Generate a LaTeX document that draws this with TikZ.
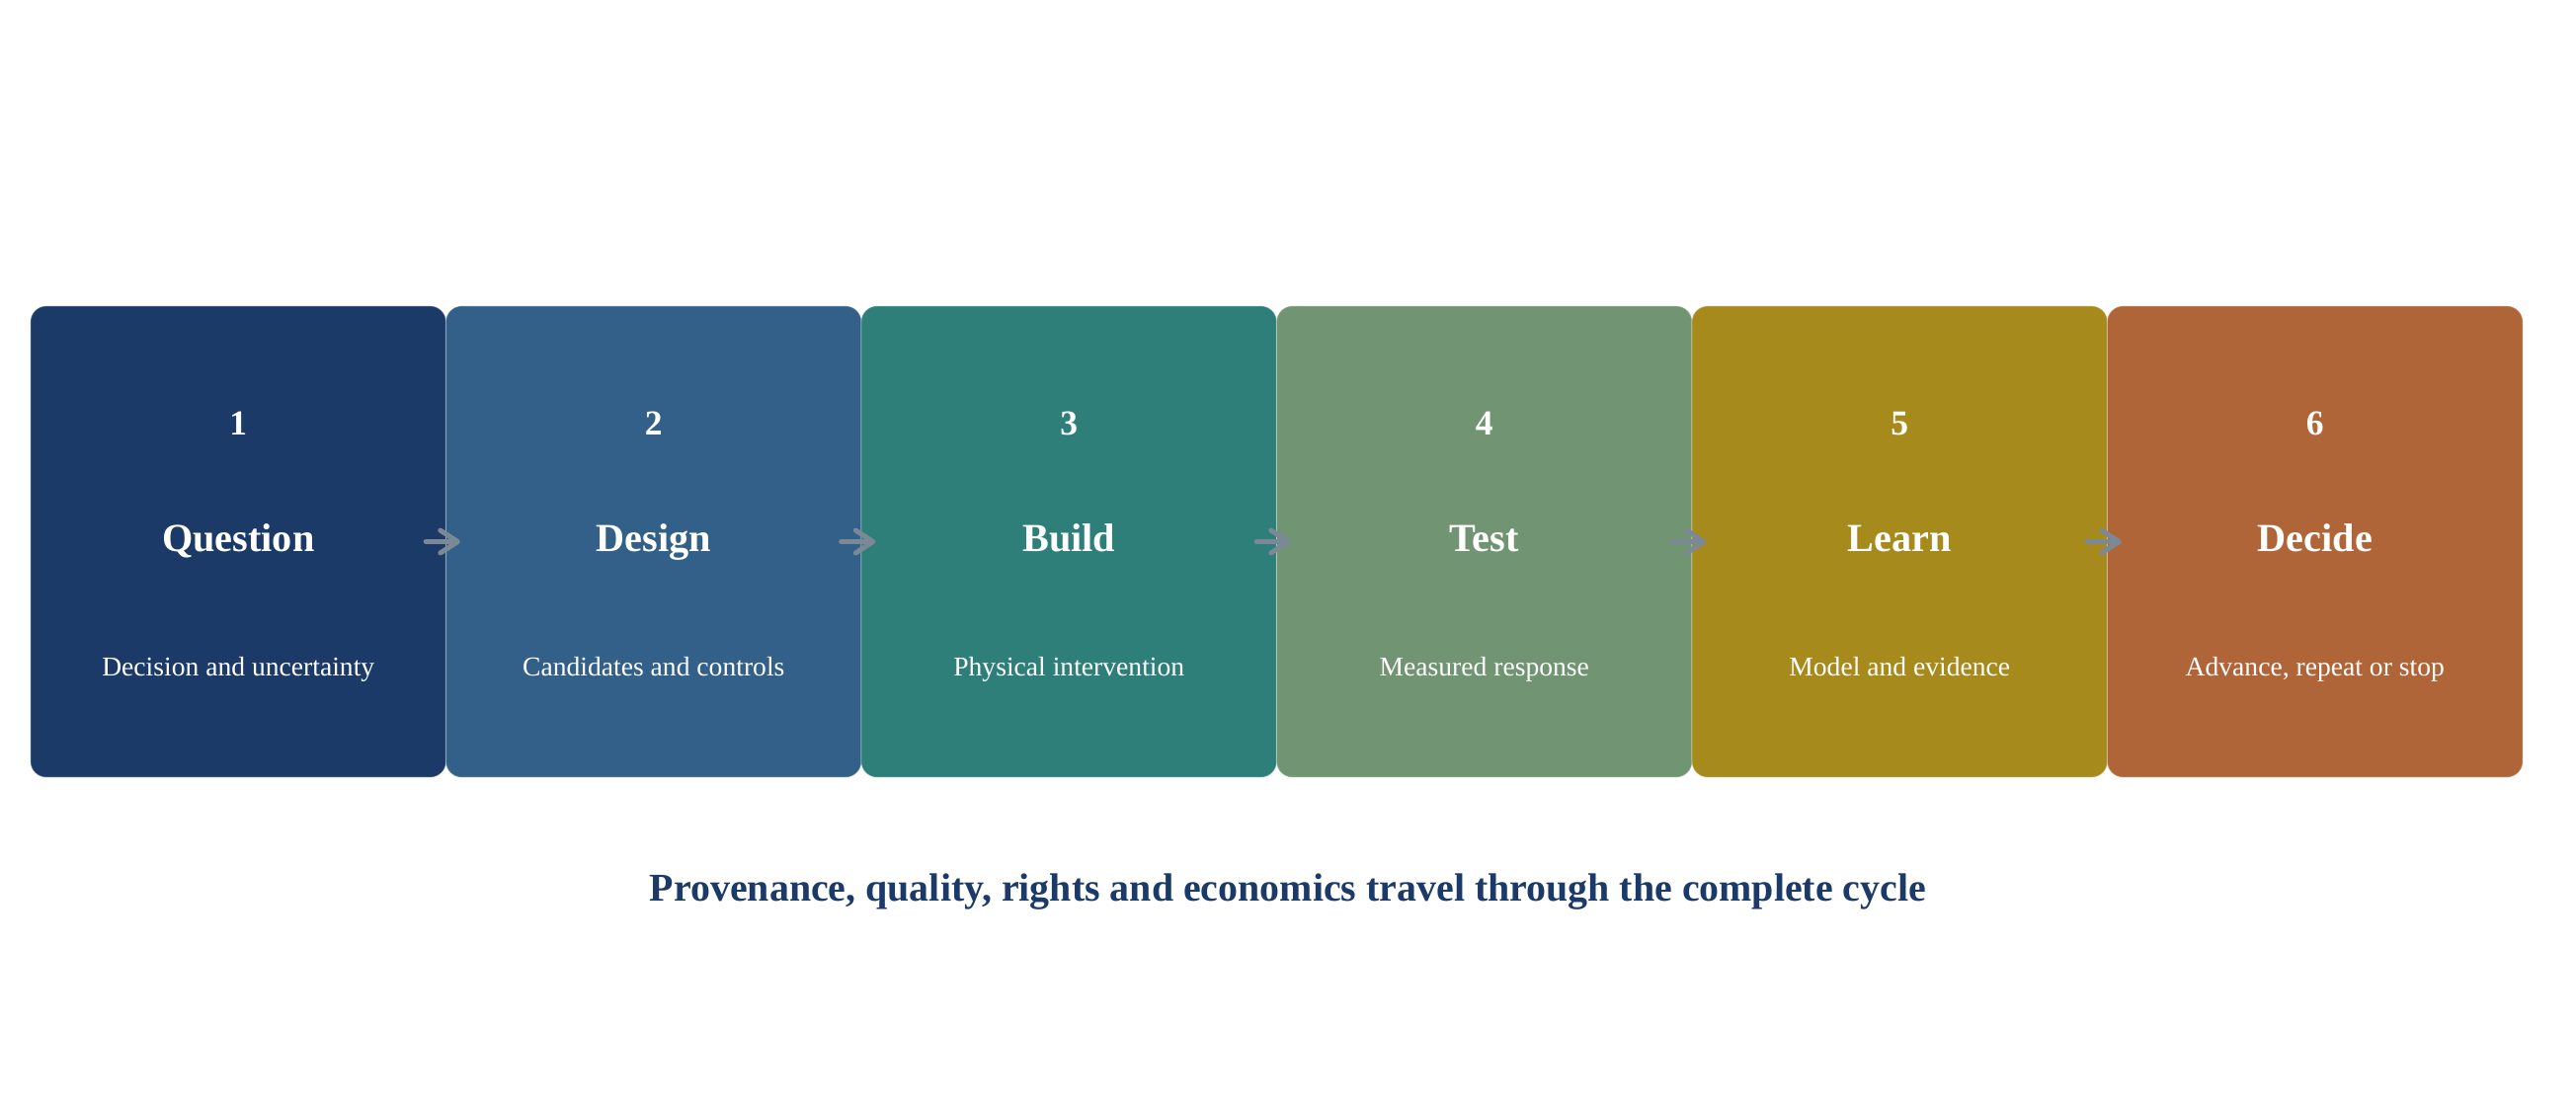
\documentclass[tikz,border=0pt]{standalone}
\usepackage{fontspec}
\setmainfont{Liberation Serif}
\usepackage{tikz}
\usetikzlibrary{arrows.meta,positioning}
\definecolor{qblue}{HTML}{1B3A68}
\definecolor{dblue}{HTML}{336088}
\definecolor{bteal}{HTML}{2E7E7A}
\definecolor{tsage}{HTML}{719572}
\definecolor{lolive}{HTML}{A68A1C}
\definecolor{drust}{HTML}{B06538}
\definecolor{flowgray}{HTML}{7B8896}
\tikzset{
  stage/.style={rectangle, rounded corners=0.16cm, minimum width=4.205cm, minimum height=4.77cm, inner sep=0pt, draw=white, draw opacity=0.35, line width=0.01cm},
  stagenum/.style={anchor=base, text=white, font=\fontsize{10.1}{12}\selectfont\bfseries},
  stagehead/.style={anchor=base, text=white, font=\fontsize{11.45}{13}\selectfont\bfseries},
  stagesub/.style={anchor=base, text=white, font=\fontsize{7.85}{9}\selectfont},
  flow/.style={flowgray, line width=0.05cm, line cap=round, ->, > = {Straight Barb[round, length=5pt, width=6.5pt]}}
}
\begin{document}
\begin{tikzpicture}[x=0.01cm, y=-0.01cm]
\useasboundingbox (0,0) rectangle (2608,1120);
% the six stages
\node[stage, fill=qblue]  (question) at (241.25,548.5) {};
\node[stage, fill=dblue]  (design)   at (661.75,548.5) {};
\node[stage, fill=bteal]  (build)    at (1082.25,548.5) {};
\node[stage, fill=tsage]  (test)     at (1502.75,548.5) {};
\node[stage, fill=lolive] (learn)    at (1923.25,548.5) {};
\node[stage, fill=drust]  (decide)   at (2343.75,548.5) {};

\node[stagenum] (num1) at (241.25,440) {1};
\node[stagehead] (head1) at (241.25,558) {Question};
\node[stagesub] (sub1) at (241.25,684) {Decision and uncertainty};

\node[stagenum] (num2) at (661.75,440) {2};
\node[stagehead] (head2) at (661.75,558) {Design};
\node[stagesub] (sub2) at (661.75,684) {Candidates and controls};

\node[stagenum] (num3) at (1082.25,440) {3};
\node[stagehead] (head3) at (1082.25,558) {Build};
\node[stagesub] (sub3) at (1082.25,684) {Physical intervention};

\node[stagenum] (num4) at (1502.75,440) {4};
\node[stagehead] (head4) at (1502.75,558) {Test};
\node[stagesub] (sub4) at (1502.75,684) {Measured response};

\node[stagenum] (num5) at (1923.25,440) {5};
\node[stagehead] (head5) at (1923.25,558) {Learn};
\node[stagesub] (sub5) at (1923.25,684) {Model and evidence};

\node[stagenum] (num6) at (2343.75,440) {6};
\node[stagehead] (head6) at (2343.75,558) {Decide};
\node[stagesub] (sub6) at (2343.75,684) {Advance, repeat or stop};

% arrows across the joins
\draw[flow] ([xshift=-0.21cm]question.east) -- ([xshift=0.15cm]design.west);
\draw[flow] ([xshift=-0.21cm]design.east) -- ([xshift=0.15cm]build.west);
\draw[flow] ([xshift=-0.21cm]build.east) -- ([xshift=0.15cm]test.west);
\draw[flow] ([xshift=-0.21cm]test.east) -- ([xshift=0.15cm]learn.west);
\draw[flow] ([xshift=-0.21cm]learn.east) -- ([xshift=0.15cm]decide.west);

\node[anchor=base, text=qblue, font=\fontsize{11.35}{13}\selectfont\bfseries] (caption) at (1304,912) {Provenance, quality, rights and economics travel through the complete cycle};
\end{tikzpicture}
\end{document}
